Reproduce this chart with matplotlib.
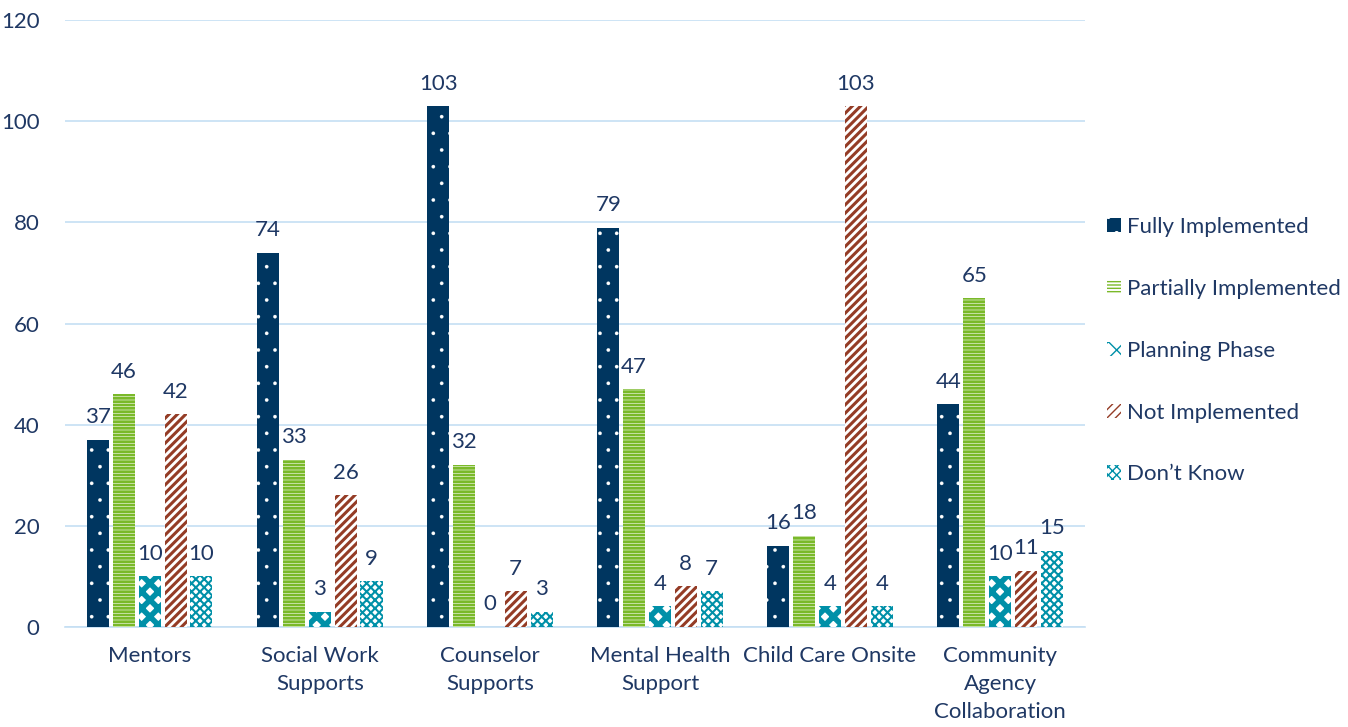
import numpy as np
import matplotlib
matplotlib.use("Agg")
import matplotlib.pyplot as plt

categories = ["Mentors", "Social Work\nSupports", "Counselor\nSupports", "Mental Health\nSupport",
              "Child Care Onsite", "Community\nAgency\nCollaboration"]
series = ["Fully Implemented", "Partially Implemented", "Planning Phase", "Not Implemented", "Don\u2019t Know"]
fully = [37, 74, 103, 79, 16, 44]
partially = [46, 33, 32, 47, 18, 65]
planning = [10, 3, 0, 4, 4, 10]
not_impl = [42, 26, 7, 8, 103, 11]
dont_know = [10, 9, 3, 7, 4, 15]

values = [fully, partially, planning, not_impl, dont_know]
# (face, hatch colour, hatch, hatch width)
styles = [("#003660", "white", ".", 0.2),
          ("white", "#7AB929", "-----", 2.0),
          ("white", "#0090A8", "xx", 4.0),
          ("white", "#943C26", "////", 2.2),
          ("white", "#0090A8", "xxxx", 1.5)]

plt.rcParams['font.family'] = ['Lato', 'DejaVu Sans']
text_col = "#1F3864"
fs = 16

fig, ax = plt.subplots(figsize=(13.48, 7.27), dpi=100)
fig.subplots_adjust(left=0.048, right=0.805, top=0.972, bottom=0.138)

x = np.arange(len(categories))
w = 0.13
step = 0.152
for i, (vals, (fc, hc, h, hlw)) in enumerate(zip(values, styles)):
    pos = x + (i - 2) * step
    with plt.rc_context({'hatch.linewidth': hlw}):
        ax.bar(pos, vals, w, facecolor=fc, edgecolor=hc, hatch=h, linewidth=0, label=series[i], zorder=3)
    for p, v in zip(pos, vals):
        ax.text(p, v + 2.5, str(v), ha="center", va="bottom", fontsize=fs, color=text_col)

ax.set_ylim(0, 120)
ax.set_xlim(-0.5, len(categories) - 0.5)
ax.set_yticks(range(0, 121, 20))
ax.set_xticks(x)
ax.set_xticklabels(categories, fontsize=fs, color=text_col, va="top", linespacing=1.5)
ax.tick_params(axis="y", labelsize=fs, labelcolor=text_col, length=0, pad=18)
ax.tick_params(axis="x", length=0, pad=14)
ax.grid(axis="y", color="#C5DFF3", linewidth=1.2, zorder=0)
for s in ["top", "right", "left"]:
    ax.spines[s].set_visible(False)
ax.spines["bottom"].set_color("#C5DFF3")
ax.spines["bottom"].set_linewidth(1.2)

ax.legend(loc="center left", bbox_to_anchor=(1.002, 0.455), frameon=False, fontsize=fs,
          handlelength=0.6, handleheight=0.6, handletextpad=0.3, labelspacing=1.88,
          labelcolor=text_col)

plt.savefig("out.png", dpi=100)
